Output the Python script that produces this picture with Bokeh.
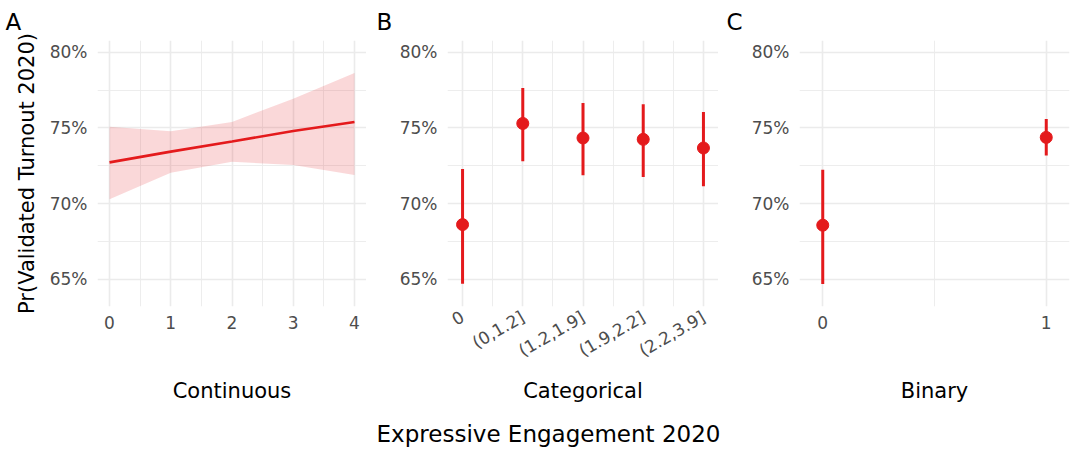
import math
from bokeh.plotting import figure
from bokeh.layouts import row, column
from bokeh.models import FixedTicker, NumeralTickFormatter, Range1d, ColumnDataSource, Label
from bokeh.embed import file_html
from bokeh.resources import INLINE

RED = "#E41A1C"
FONT = "DejaVu Sans"

# ---- Data ----
# Panel A: continuous predictor
cont_x = [0, 1, 2, 3, 4]
cont_fit = [0.7272, 0.7343, 0.7410, 0.7479, 0.7539]
cont_lower = [0.7028, 0.7204, 0.7276, 0.7255, 0.7189]
cont_upper = [0.7507, 0.7478, 0.7539, 0.7693, 0.7862]

# Panel B: categorical predictor
cat_labels = ["0", "(0,1.2]", "(1.2,1.9]", "(1.9,2.2]", "(2.2,3.9]"]
cat_est = [0.6861, 0.7529, 0.7433, 0.7424, 0.7367]
cat_low = [0.6471, 0.7279, 0.7187, 0.7176, 0.7114]
cat_high = [0.7229, 0.7763, 0.7664, 0.7656, 0.7604]

# Panel C: binary predictor
bin_labels = ["0", "1"]
bin_est = [0.6857, 0.7437]
bin_low = [0.6469, 0.7317]
bin_high = [0.7223, 0.7558]

y_ticks = [0.65, 0.70, 0.75, 0.80]
y_minor = [0.675, 0.725, 0.775]
Y_RANGE = (0.6320, 0.8077)

TOP, FRAME_H, BOTTOM = 38, 268, 114
H = TOP + FRAME_H + BOTTOM
FOOT_H = 452 - H


def make_fig(left, frame_w, right, xr, letter, letter_offset, xlabel, xticks, xminor, overrides=None):
    p = figure(width=left + frame_w + right, height=H, output_backend="svg", toolbar_location=None,
               x_range=Range1d(*xr), y_range=Range1d(*Y_RANGE),
               min_border_left=left, min_border_right=right, min_border_top=TOP, min_border_bottom=BOTTOM)
    p.outline_line_color = None
    p.background_fill_color = "white"
    p.border_fill_color = "white"
    p.title.text = letter
    p.title.align = "left"
    p.title.offset = letter_offset
    p.title.standoff = 12
    p.title.text_font = FONT
    p.title.text_font_size = "23px"
    p.title.text_font_style = "normal"
    p.title.text_color = "black"

    p.xaxis.ticker = FixedTicker(ticks=xticks, minor_ticks=xminor)
    p.yaxis.ticker = FixedTicker(ticks=y_ticks, minor_ticks=y_minor)
    p.yaxis.formatter = NumeralTickFormatter(format="0%")
    if overrides:
        p.xaxis.major_label_overrides = overrides
    for ax in (p.xaxis, p.yaxis):
        ax.axis_line_color = None
        ax.major_tick_line_color = None
        ax.minor_tick_line_color = None
        ax.major_tick_out = 0
        ax.major_tick_in = 0
        ax.minor_tick_out = 0
        ax.minor_tick_in = 0
        ax.major_label_text_font = FONT
        ax.major_label_text_font_size = "17px"
        ax.major_label_text_color = "#4D4D4D"
        ax.axis_label_text_font = FONT
        ax.axis_label_text_font_size = "21px"
        ax.axis_label_text_font_style = "normal"
        ax.axis_label_text_color = "black"
    p.yaxis.major_label_standoff = 10
    p.xaxis.major_label_standoff = 9
    p.xaxis.axis_label = xlabel
    for g in (p.xgrid, p.ygrid):
        g.grid_line_color = "#EBEBEB"
        g.grid_line_width = 1.6
        g.minor_grid_line_color = "#EBEBEB"
        g.minor_grid_line_width = 0.9
    return p


# Panel A
pa = make_fig(97, 269, 0, (-0.196, 4.196), "A", -92, "Continuous",
              [0, 1, 2, 3, 4], [0.5, 1.5, 2.5, 3.5])
pa.yaxis.axis_label = "Pr(Validated Turnout 2020)"
pa.yaxis.axis_label_standoff = 8
pa.xaxis.axis_label_standoff = 47
src_a = ColumnDataSource(dict(x=cont_x, fit=cont_fit, lo=cont_lower, hi=cont_upper))
pa.varea(x="x", y1="lo", y2="hi", source=src_a, fill_color=RED, fill_alpha=0.17)
pa.line(x="x", y="fit", source=src_a, line_color=RED, line_width=2.6)

# Panel B
cat_x = list(range(len(cat_labels)))
pb = make_fig(81, 271, 0, (-0.25, len(cat_labels) - 1 + 0.25), "B", -71, "Categorical",
              cat_x, [i + 0.5 for i in cat_x[:-1]],
              overrides={i: lab for i, lab in zip(cat_x, cat_labels)})
pb.xaxis.major_label_orientation = math.pi / 6
pb.xaxis.axis_label_standoff = 7
src_b = ColumnDataSource(dict(x=cat_x, est=cat_est, lo=cat_low, hi=cat_high))
pb.segment(x0="x", y0="lo", x1="x", y1="hi", source=src_b, line_color=RED, line_width=3)
pb.scatter(x="x", y="est", source=src_b, size=12, fill_color=RED, line_color=RED)

# Panel C
bin_x = list(range(len(bin_labels)))
pc = make_fig(81, 270, 5, (-0.104, len(bin_labels) - 1 + 0.104), "C", -73, "Binary",
              bin_x, [0.5],
              overrides={i: lab for i, lab in zip(bin_x, bin_labels)})
pc.xaxis.axis_label_standoff = 47
src_c = ColumnDataSource(dict(x=bin_x, est=bin_est, lo=bin_low, hi=bin_high))
pc.segment(x0="x", y0="lo", x1="x", y1="hi", source=src_c, line_color=RED, line_width=3)
pc.scatter(x="x", y="est", source=src_c, size=12, fill_color=RED, line_color=RED)

# Shared x-axis title strip
foot = figure(width=1074, height=FOOT_H, output_backend="svg", toolbar_location=None,
              x_range=Range1d(0, 1074), y_range=Range1d(0, FOOT_H),
              min_border_left=0, min_border_right=0, min_border_top=0, min_border_bottom=0)
foot.axis.visible = False
foot.grid.visible = False
foot.outline_line_color = None
foot.add_layout(Label(x=548, y=FOOT_H - 13, text="Expressive Engagement 2020",
                      text_align="center", text_baseline="alphabetic",
                      text_font=FONT, text_font_size="23px", text_color="black"))

layout = column(row(pa, pb, pc, spacing=0), foot, spacing=0)
open("out.html", "w").write(file_html(layout, INLINE))
